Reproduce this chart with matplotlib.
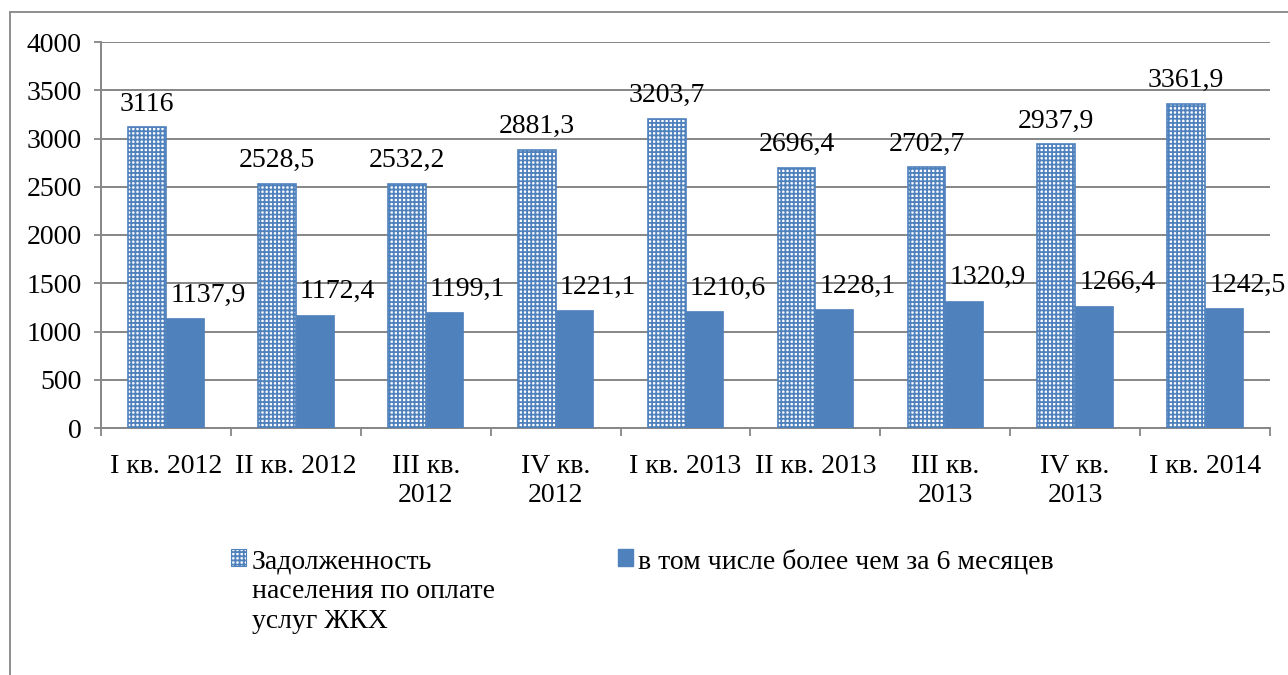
import matplotlib
matplotlib.use("Agg")
import matplotlib.pyplot as plt
from matplotlib.patches import Patch, Rectangle
import numpy as np

categories = ["I кв. 2012", "II кв. 2012", "III кв.\n2012", "IV кв.\n2012",
              "I кв. 2013", "II кв. 2013", "III кв.\n2013", "IV кв.\n2013", "I кв. 2014"]
total_debt = [3116, 2528.5, 2532.2, 2881.3, 3203.7, 2696.4, 2702.7, 2937.9, 3361.9]
over_6_months = [1137.9, 1172.4, 1199.1, 1221.1, 1210.6, 1228.1, 1320.9, 1266.4, 1242.5]
series_names = ["Задолженность\nнаселения по оплате\nуслуг ЖКХ",
                "в том числе более чем за 6 месяцев"]
y_ticks = [0, 500, 1000, 1500, 2000, 2500, 3000, 3500, 4000]

BLUE = "#4f81bd"
GRAY = "#868686"
FS = 20
FAMILY = ['Liberation Serif', 'DejaVu Serif']

plt.rcParams['font.family'] = FAMILY
plt.rcParams['hatch.linewidth'] = 1.3
plt.rcParams['hatch.color'] = BLUE

fig = plt.figure(figsize=(12.88, 6.75), dpi=100)
ax = fig.add_axes([101/1288, 1 - 428/675, (1270-101)/1288, (428-42)/675])

# outer frame (extends beyond right/bottom edge)
fig.add_artist(Rectangle((10/1288, -0.1), 1.2, 1 - 12/675 + 0.1,
                         transform=fig.transFigure, fill=False,
                         edgecolor=GRAY, linewidth=1.3))

x = np.arange(len(categories))
w = 0.29
ax.bar(x - w/2, total_debt, w, facecolor="white", edgecolor=BLUE,
       hatch="++++", linewidth=1.2, zorder=3)
ax.bar(x + w/2, over_6_months, w, color=BLUE, edgecolor=BLUE,
       linewidth=0.5, zorder=3)

def fmt(v):
    return f"{v:g}".replace(".", ",")

for xi, v in zip(x - w/2, total_debt):
    ax.annotate(fmt(v), (xi, v), xytext=(0, 12), textcoords="offset points",
                ha="center", va="baseline", fontsize=FS, family=FAMILY, zorder=4)
for xi, v in zip(x, over_6_months):
    ax.annotate(fmt(v), (xi, v), xytext=(3, 12), textcoords="offset points",
                ha="left", va="baseline", fontsize=FS, family=FAMILY, zorder=4)

ax.set_xlim(-0.5, len(categories) - 0.5)
ax.set_ylim(0, 4000)
ax.set_yticks(y_ticks)
ax.set_yticklabels([str(t) for t in y_ticks], fontsize=FS, family=FAMILY)
ax.yaxis.grid(True, color=GRAY, linewidth=1.4, zorder=0)
ax.set_axisbelow(True)

ax.set_xticks(x)
ax.set_xticklabels(categories, fontsize=FS, linespacing=1.18, family=FAMILY)
ax.set_xticks(np.arange(len(categories) + 1) - 0.5, minor=True)
ax.tick_params(axis="x", which="major", length=0, pad=19)
ax.tick_params(axis="x", which="minor", length=6, width=1.3, color=GRAY, direction="out")
ax.tick_params(axis="y", length=5, width=1.3, color=GRAY, pad=9)

for s in ["top", "right"]:
    ax.spines[s].set_visible(False)
for s in ["left", "bottom"]:
    ax.spines[s].set_color(GRAY)
    ax.spines[s].set_linewidth(1.4)

handles = [Patch(facecolor="white", edgecolor=BLUE, hatch="++++", linewidth=0.8),
           Patch(facecolor=BLUE, edgecolor=BLUE)]
leg = fig.legend(handles, series_names, loc="upper left",
                 bbox_to_anchor=(231/1288, 1 - 549/675), ncol=2, frameon=False,
                 prop={'family': FAMILY, 'size': FS},
                 handlelength=0.55, handleheight=0.55,
                 handletextpad=0.2, columnspacing=4.42, borderaxespad=0,
                 borderpad=0)
for t in leg.get_texts():
    t.set_linespacing(1.27)
# align markers with the first line of each label, and columns at the top
leg._legend_handle_box.align = "top"
for col in leg._legend_handle_box.get_children():
    col.align = "left"
    for entry in col.get_children():
        entry.align = "top"

fig.savefig("out.png", dpi=100)
